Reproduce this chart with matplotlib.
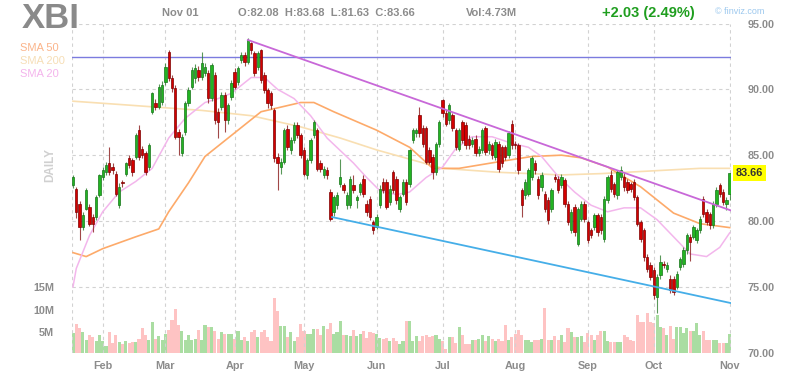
import matplotlib
matplotlib.use("Agg")
import matplotlib.pyplot as plt
import matplotlib.transforms as mtransforms

# ---------------- data ----------------
opens = [82.7, 82.46, 81.32, 79.55, 80.94, 81.07, 80.31, 80.31, 81.96, 83.35,
         83.73, 84.37, 84.11, 83.6, 81.2, 82.98, 83.6, 84.75, 84.62, 84.87,
         86.9, 85.5, 85.13, 84.11, 88.29, 88.93, 88.68, 89.05, 90.58, 92.86,
         90.83, 90.07, 86.77, 85.13, 86.77, 88.93, 90.2, 90.83, 91.46, 90.9,
         91.21, 91.21, 89.31, 91.08, 88.29, 88.68, 89.56, 87.66, 89.43, 91.34,
         90.58, 92.22, 92.6, 92.1, 93.5, 92.73, 91.72, 92.98, 91.08, 89.94,
         89.69, 88.42, 84.87, 84.11, 84.5, 87.0, 85.38, 86.14, 87.28, 86.52,
         85.38, 83.48, 84.62, 86.52, 86.9, 84.37, 83.48, 83.86, 82.21, 80.69,
         81.2, 82.84, 82.72, 81.2, 81.2, 82.72, 81.57, 82.21, 83.22, 81.32,
         81.7, 79.93, 79.55, 81.2, 82.97, 82.97, 81.45, 83.73, 83.22, 80.94,
         82.08, 82.97, 82.84, 86.14, 86.65, 88.04, 87.03, 87.03, 85.38, 84.87,
         83.73, 85.88, 89.18, 88.17, 87.66, 88.04, 86.9, 85.5, 87.53, 87.28,
         86.26, 85.88, 86.26, 85.13, 85.38, 87.03, 85.38, 85.76, 84.87, 85.88,
         85.63, 85.63, 85.0, 87.4, 85.88, 85.76, 82.34, 81.96, 82.08, 83.35,
         84.37, 83.22, 82.59, 82.08, 81.57, 80.94, 83.35, 83.22, 82.72, 83.1,
         81.32, 79.29, 81.07, 78.28, 80.18, 81.32, 79.93, 79.29, 79.55, 80.44,
         80.31, 78.66, 81.58, 83.48, 82.84, 81.96, 83.35, 83.35, 82.97, 82.84,
         82.97, 81.83, 79.93, 79.3, 77.27, 76.63, 76.25, 74.23, 75.87, 76.76,
         76.38, 75.62, 75.62, 74.99, 76.51, 76.76, 77.78, 78.79, 78.79, 78.54,
         79.3, 81.7, 80.69, 80.56, 79.67, 81.32, 82.72, 82.21, 81.32, 82.08]
closes = [83.35, 80.69, 79.55, 80.44, 82.34, 79.8, 79.8, 81.83, 83.48, 83.86,
          84.24, 83.73, 83.86, 82.08, 82.6, 82.85, 84.37, 84.24, 83.73, 86.52,
          84.87, 85.0, 83.73, 85.76, 89.69, 88.68, 90.2, 90.32, 91.72, 90.83,
          90.07, 86.39, 86.39, 86.39, 88.93, 89.94, 91.46, 91.59, 90.96, 92.0,
          91.72, 89.31, 91.84, 87.66, 87.53, 89.56, 87.66, 88.8, 90.45, 90.2,
          91.59, 92.6, 92.1, 93.74, 92.98, 91.21, 92.73, 90.7, 89.94, 88.93,
          88.8, 84.75, 84.37, 84.5, 86.9, 85.63, 86.14, 87.28, 86.52, 85.0,
          83.6, 84.62, 86.14, 87.53, 83.98, 83.98, 83.98, 83.48, 80.18, 81.83,
          82.0, 83.35, 82.34, 81.96, 83.22, 82.34, 81.83, 82.84, 82.08, 80.69,
          80.31, 79.29, 80.31, 82.46, 82.34, 81.07, 82.46, 82.34, 81.57, 81.83,
          82.97, 81.45, 85.38, 86.9, 86.9, 86.65, 85.88, 84.49, 84.49, 83.73,
          85.88, 87.53, 88.17, 87.4, 88.8, 87.03, 85.63, 86.9, 86.14, 85.76,
          85.76, 86.14, 85.13, 85.5, 86.9, 85.25, 85.88, 85.0, 86.01, 83.98,
          84.37, 84.87, 86.65, 85.76, 85.76, 83.86, 81.2, 82.97, 83.86, 84.75,
          83.86, 81.96, 83.48, 80.94, 80.05, 82.34, 83.22, 82.34, 83.35, 81.32,
          79.93, 80.69, 79.17, 80.94, 81.32, 80.18, 78.53, 78.91, 80.44, 79.17,
          79.3, 81.7, 83.35, 82.46, 82.08, 83.73, 83.86, 82.59, 82.34, 82.46,
          81.83, 79.8, 78.66, 77.27, 76.38, 75.75, 74.35, 75.75, 76.89, 76.63,
          76.63, 74.73, 74.6, 76.0, 77.14, 77.78, 78.92, 78.41, 79.55, 79.3,
          80.18, 80.56, 79.93, 79.67, 81.32, 82.34, 82.08, 81.45, 81.58, 83.66]
highs = [83.5, 82.6, 81.5, 80.7, 82.5, 81.3, 80.5, 82.0, 83.6, 84.1,
         84.5, 85.63, 84.4, 83.8, 82.9, 83.1, 84.5, 85.0, 84.8, 86.7,
         87.28, 85.7, 85.3, 85.9, 89.8, 89.3, 90.4, 90.6, 92.0, 92.98,
         91.1, 90.3, 87.0, 86.6, 89.1, 90.2, 91.7, 91.9, 91.8, 92.86,
         92.0, 91.5, 92.0, 91.3, 88.6, 89.8, 89.8, 89.0, 90.7, 91.6,
         91.8, 92.8, 92.8, 93.9, 93.6, 92.9, 92.9, 93.1, 91.3, 90.1,
         89.9, 88.6, 85.2, 84.8, 87.1, 87.3, 86.4, 87.5, 87.5, 86.7,
         85.6, 84.8, 86.3, 87.66, 87.1, 84.6, 84.2, 84.1, 82.4, 82.0,
         82.2, 84.74, 82.9, 82.2, 83.4, 83.5, 82.0, 83.0, 83.5, 81.6,
         81.9, 80.1, 80.5, 82.7, 83.3, 83.2, 82.7, 83.9, 83.4, 82.0,
         83.2, 83.2, 85.5, 87.1, 87.1, 88.67, 87.3, 87.2, 85.6, 85.1,
         86.0, 87.7, 89.3, 88.4, 89.0, 88.2, 87.1, 87.1, 87.7, 87.5,
         86.5, 86.4, 86.5, 85.7, 87.1, 87.2, 86.1, 85.9, 86.2, 86.1,
         85.8, 85.8, 86.8, 87.66, 86.1, 85.9, 82.5, 83.2, 84.0, 84.9,
         84.6, 83.4, 83.7, 82.3, 81.8, 82.5, 83.6, 83.4, 83.6, 83.3,
         81.5, 80.9, 81.3, 81.1, 81.5, 81.5, 80.1, 79.5, 80.6, 80.6,
         80.5, 81.9, 83.5, 83.9, 83.0, 83.9, 84.2, 83.7, 83.2, 83.0,
         83.2, 82.0, 80.1, 79.5, 77.5, 76.9, 76.5, 76.0, 77.4, 77.0,
         76.9, 75.9, 75.8, 76.2, 77.3, 78.0, 79.1, 79.0, 79.7, 79.5,
         80.4, 81.9, 80.9, 80.7, 81.5, 82.6, 82.9, 82.4, 81.8, 83.68]
lows = [82.5, 80.2, 78.54, 79.3, 80.8, 79.6, 79.17, 80.1, 81.8, 83.1,
        83.5, 83.5, 83.6, 81.9, 81.0, 82.6, 83.4, 84.0, 83.4, 84.7,
        84.6, 84.8, 83.5, 83.9, 88.1, 88.4, 88.5, 88.8, 90.3, 90.6,
        89.8, 86.2, 85.0, 84.9, 86.5, 88.7, 90.0, 90.5, 90.6, 90.7,
        91.0, 89.0, 89.1, 87.4, 86.27, 88.4, 86.77, 87.4, 89.2, 90.0,
        90.3, 92.0, 91.8, 91.9, 92.7, 91.0, 91.5, 90.5, 89.7, 88.6,
        88.5, 84.5, 82.34, 83.6, 84.3, 85.4, 85.1, 85.9, 86.3, 84.8,
        83.4, 83.2, 84.4, 86.3, 83.8, 83.7, 83.3, 83.2, 80.0, 80.4,
        80.9, 82.6, 82.1, 80.9, 81.0, 82.1, 81.0, 82.0, 81.8, 80.4,
        80.1, 79.0, 79.4, 81.0, 82.1, 80.9, 81.2, 82.1, 81.3, 80.7,
        81.9, 81.2, 82.6, 85.9, 86.4, 86.4, 85.6, 84.3, 84.3, 83.22,
        83.5, 85.6, 87.9, 87.2, 87.4, 86.8, 85.4, 85.3, 85.9, 85.5,
        85.5, 85.6, 84.9, 84.9, 85.2, 85.0, 85.1, 84.7, 84.6, 83.7,
        84.1, 84.6, 84.8, 85.5, 85.5, 83.6, 80.3, 81.7, 81.9, 83.1,
        83.6, 81.7, 82.3, 80.7, 79.8, 80.7, 83.0, 82.1, 82.5, 81.1,
        79.7, 79.1, 78.9, 78.1, 80.0, 79.9, 78.3, 78.7, 79.3, 78.9,
        79.0, 78.4, 81.4, 82.2, 81.8, 81.7, 83.1, 82.3, 82.1, 82.2,
        81.6, 79.6, 78.4, 77.0, 76.1, 75.5, 74.1, 73.0, 75.6, 76.4,
        76.1, 74.5, 74.4, 74.8, 76.3, 76.5, 77.5, 77.0, 78.6, 78.3,
        79.1, 80.3, 79.7, 79.4, 79.5, 81.1, 81.8, 81.2, 80.8, 81.63]
volumes_m = [4.9, 6.8, 5.9, 5.1, 3.4, 4.4, 4.0, 3.1, 4.5, 3.1,
             2.0, 5.1, 2.6, 4.4, 2.9, 2.4, 3.1, 2.7, 2.9, 2.9,
             3.6, 5.9, 4.4, 3.4, 7.4, 3.6, 4.2, 3.3, 4.6, 5.5,
             7.7, 10.2, 6.6, 5.4, 3.4, 4.3, 3.4, 3.6, 5.5, 3.3,
             6.6, 6.1, 6.1, 5.3, 3.6, 5.1, 4.6, 4.6, 4.6, 3.6,
             5.4, 3.3, 4.0, 3.1, 5.1, 5.6, 4.0, 5.1, 5.6, 4.0,
             3.0, 12.7, 9.7, 6.3, 6.5, 4.0, 5.1, 3.1, 3.9, 6.8,
             5.3, 4.6, 4.6, 5.8, 5.8, 4.4, 6.3, 5.8, 7.0, 4.6,
             5.1, 7.6, 4.4, 4.3, 4.2, 5.6, 4.2, 4.7, 5.3, 3.8,
             5.1, 4.9, 4.6, 3.7, 3.5, 3.7, 3.1, 3.8, 3.0, 2.5,
             3.0, 7.6, 7.5, 3.1, 4.2, 3.1, 4.1, 4.3, 4.0, 4.2,
             4.3, 3.6, 3.1, 1.4, 4.0, 4.0, 2.7, 6.1, 4.4, 2.4,
             2.5, 3.3, 3.4, 3.6, 4.4, 3.1, 4.2, 3.6, 3.1, 3.6,
             3.1, 6.6, 3.4, 4.0, 4.6, 5.5, 4.4, 3.4, 3.4, 2.9,
             3.3, 3.4, 3.6, 10.5, 3.4, 3.4, 4.2, 3.3, 4.4, 2.9,
             5.9, 5.1, 4.0, 4.0, 4.2, 2.9, 4.8, 4.4, 3.3, 4.4,
             5.4, 5.3, 3.1, 2.9, 2.9, 2.9, 2.9, 4.4, 4.0, 3.4,
             3.1, 8.8, 7.3, 7.3, 9.2, 7.3, 7.1, 8.8, 6.1, 5.9,
             4.4, 6.4, 3.6, 6.2, 6.2, 4.8, 5.9, 5.4, 5.2, 7.1,
             4.4, 5.3, 3.4, 3.4, 3.4, 3.4, 2.7, 2.7, 2.7, 4.73]

month_labels = ["Feb", "Mar", "Apr", "May", "Jun", "Jul", "Aug", "Sep", "Oct", "Nov"]
month_idx = [9, 28, 49, 70, 92, 112, 134, 156, 176, 199]

price_ticks = [70, 75, 80, 85, 90, 95]
vol_ticks = [5, 10, 15]

sma20_idx = [0, 1, 5, 9, 14, 19, 24, 29, 34, 40, 44, 48, 54, 58, 62, 67, 72, 77,
             85, 89, 93, 98, 102, 107, 112, 116, 121, 127, 133, 138, 142, 147,
             152, 157, 162, 167, 172, 177, 182, 187, 192, 196, 199]
sma20_val = [75.0, 76.4, 78.9, 80.7, 82.2, 83.0, 84.0, 86.3, 87.8, 89.0, 89.3, 89.7,
             90.9, 90.9, 90.0, 89.3, 88.0, 86.3, 84.4, 83.3, 82.3, 82.0, 82.2, 83.3,
             84.1, 85.5, 86.4, 86.4, 85.9, 85.6, 84.9, 83.4, 82.2, 81.2, 80.7, 81.0,
             81.0, 80.1, 78.8, 77.5, 77.3, 78.0, 79.1]
sma50_idx = [0, 4, 9, 19, 26, 29, 35, 40, 48, 57, 69, 73, 79, 92, 102, 109, 117,
             129, 139, 148, 154, 162, 172, 182, 190, 199]
sma50_val = [77.6, 77.3, 77.9, 78.8, 79.4, 80.7, 82.9, 84.9, 86.5, 88.3, 89.0, 89.0,
             88.3, 86.9, 85.6, 84.0, 84.0, 84.5, 84.9, 85.0, 84.8, 84.1, 82.6, 80.6,
             79.8, 79.5]
sma200_idx = [0, 17, 39, 54, 69, 81, 92, 102, 112, 129, 148, 160, 175, 190, 199]
sma200_val = [89.1, 88.8, 88.4, 88.0, 87.15, 86.3, 85.4, 84.7, 84.0, 83.7, 83.5,
              83.6, 83.8, 84.0, 84.0]

down_trend_x = [53, 199.4]
down_trend_y = [93.75, 80.8]
support_x = [78.5, 199.7]
support_y = [80.3, 73.75]
resistance_level = 92.43

last_price = 83.66

# ---------------- figure ----------------
W, H = 788, 382
fig = plt.figure(figsize=(W / 100, H / 100), dpi=100)
fig.patch.set_facecolor("white")
FONT = "Liberation Sans"
GRAY = "#8c8c8c"

left, right, top, bottom = 72, 731, 23.5, 352.7
rect = [left / W, (H - bottom) / H, (right - left) / W, (bottom - top) / H]

axv = fig.add_axes(rect)
ax = fig.add_axes(rect)
ax.patch.set_alpha(0)

xlim = (-0.3, 199.4)
n = len(closes)
xs = list(range(n))

# volume
vcols = ["#aadda2" if c >= o else "#fec3c3" for o, c in zip(opens, closes)]
axv.bar(xs, volumes_m, width=0.92, color=vcols, linewidth=0)
axv.set_xlim(*xlim)
axv.set_ylim(0.47, 73.6)
axv.set_yticks(vol_ticks)
axv.set_yticklabels([f"{v}M" for v in vol_ticks])
axv.tick_params(axis="y", length=0, pad=13, labelsize=7.8, labelcolor=GRAY)
for t in axv.get_yticklabels():
    t.set_fontweight("bold"); t.set_family(FONT)
axv.set_xticks([])
for s in axv.spines.values():
    s.set_visible(False)

# grid
for p in [75, 80, 85, 90, 95]:
    ax.axhline(p, color="#d2d2d2", lw=0.8, ls=(0, (3, 3)), zorder=0)
for mi in month_idx:
    ax.axvline(mi, color="#d2d2d2", lw=0.8, ls=(0, (3, 3)), zorder=0)
ax.axvline(xlim[0], color="#d2d2d2", lw=0.8, ls=(0, (3, 3)), zorder=0)
ax.axvline(xlim[1], color="#d2d2d2", lw=0.8, ls=(0, (3, 3)), zorder=0)

# SMAs
ax.plot(sma200_idx, sma200_val, color="#f9dfb2", lw=1.2, zorder=1)
ax.plot(sma50_idx, sma50_val, color="#fdaa6a", lw=1.2, zorder=1)
ax.plot(sma20_idx, sma20_val, color="#f3b6ec", lw=1.1, zorder=1)

# horizontal resistance
ax.axhline(resistance_level, color="#7b7bdf", lw=1.0, zorder=2)

# candles
for i in xs:
    o, c, h, l = opens[i], closes[i], highs[i], lows[i]
    up = c >= o
    wick = "#2f7f2f" if up else "#8a1a1a"
    ax.vlines(i, l, h, color=wick, lw=0.8, alpha=0.8, zorder=3)
ucol = ["#22b422" if c >= o else "#d40000" for o, c in zip(opens, closes)]
ecol = ["#17741a" if c >= o else "#7d0000" for o, c in zip(opens, closes)]
ax.bar(xs, [max(abs(c - o), 0.05) for o, c in zip(opens, closes)],
       bottom=[min(o, c) for o, c in zip(opens, closes)],
       width=0.72, color=ucol, edgecolor=ecol, linewidth=0.5, zorder=4)

# trend lines
ax.plot(down_trend_x, down_trend_y, color="#c868d8", lw=1.3, zorder=5)
ax.plot(support_x, support_y, color="#45aee8", lw=1.3, zorder=5)

ax.set_xlim(*xlim)
ax.set_ylim(70, 95)
ax.yaxis.tick_right()
ax.set_yticks(price_ticks)
ax.set_yticklabels([f"{p:.2f}" for p in price_ticks])
ax.tick_params(axis="y", length=0, pad=12, labelsize=7.8, labelcolor=GRAY)
ax.set_xticks(month_idx)
ax.set_xticklabels(month_labels)
ax.tick_params(axis="x", length=0, pad=6, labelsize=7.8, labelcolor=GRAY)
for t in ax.get_yticklabels() + ax.get_xticklabels():
    t.set_fontweight("bold"); t.set_family(FONT)
for s in ax.spines.values():
    s.set_visible(False)

# last price tag
trans = mtransforms.blended_transform_factory(ax.transAxes, ax.transData)
ax.text(1.0 + 5 / (right - left), last_price, f"{last_price:.2f}", transform=trans,
        ha="left", va="center", fontsize=7.8, fontweight="bold", family=FONT,
        color="#333333", zorder=10,
        bbox=dict(boxstyle="square,pad=0.25", fc="#ffff00", ec="none"))

# header texts
def ftxt(x, y, s, **kw):
    fig.text(x / W, 1 - y / H, s, family=FONT, **kw)

ftxt(22, 19, "XBI", fontsize=25, fontweight="bold", color="#8a8a8a", va="center")
ftxt(20, 48, "SMA 50", fontsize=8, color="#fbb48a", va="center")
ftxt(20, 61, "SMA 200", fontsize=8, color="#f6deb6", va="center")
ftxt(20, 74, "SMA 20", fontsize=8, color="#f4b4ec", va="center")
ftxt(162, 13, "Nov 01", fontsize=8, fontweight="bold", color=GRAY, va="center")
ftxt(238, 13, "O:82.08  H:83.68  L:81.63  C:83.66", fontsize=8, fontweight="bold",
     color=GRAY, va="center")
ftxt(466, 13, "Vol:4.73M", fontsize=8, fontweight="bold", color=GRAY, va="center")
ftxt(602, 13, "+2.03 (2.49%)", fontsize=10.5, fontweight="bold", color="#1f9e1f",
     va="center")
ftxt(715, 11, "\u00a9 finviz.com", fontsize=6.5, color="#9cc8ee", va="center")
ftxt(50, 165, "DAILY", fontsize=8.5, fontweight="bold", color="#d0d0d0",
     va="center", ha="center", rotation=90)

fig.savefig("out.png", dpi=100, facecolor="white")
